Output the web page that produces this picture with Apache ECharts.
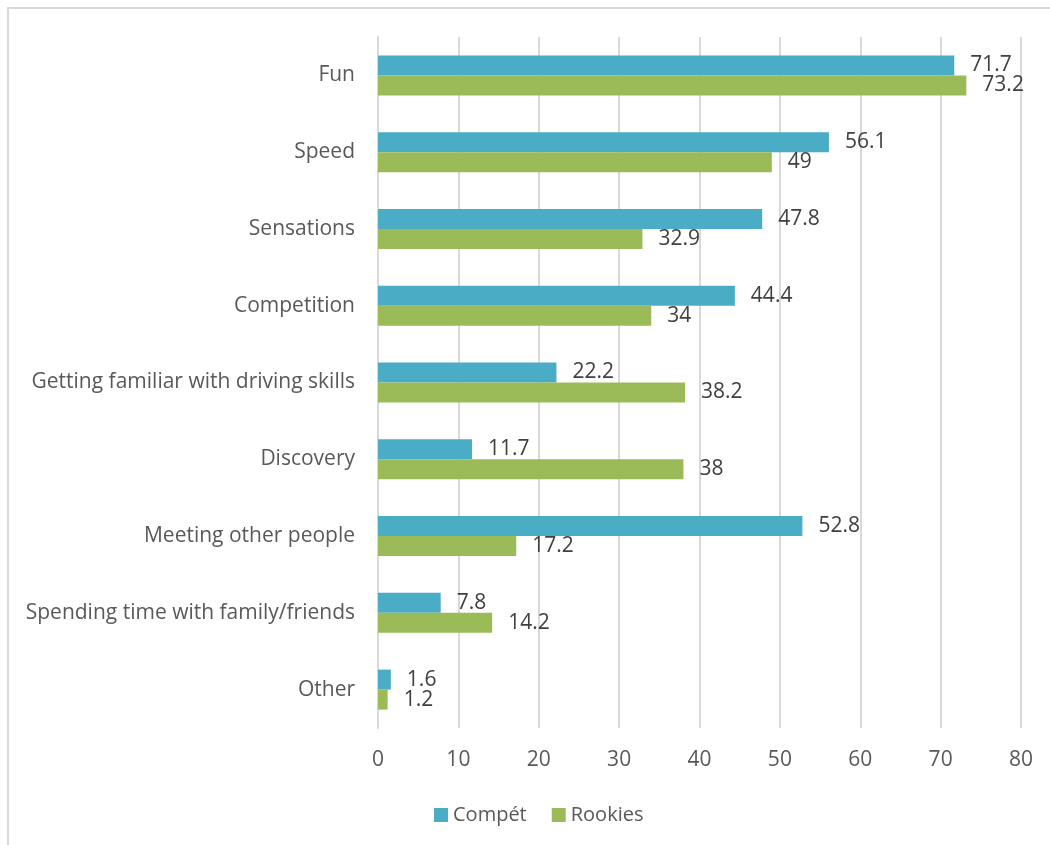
<!DOCTYPE html>
<html>
<head>
<meta charset="utf-8">
<script src="https://cdn.jsdelivr.net/npm/echarts@6/dist/echarts.min.js"></script>
<style>
  html, body { margin: 0; padding: 0; background: #ffffff; }
  #chart { width: 1050px; height: 845px; }
</style>
</head>
<body>
<div id="chart"></div>
<script>
// Motivations, by group (%)
const categories = [
  'Fun', 'Speed', 'Sensations', 'Competition',
  'Getting familiar with driving skills', 'Discovery',
  'Meeting other people', 'Spending time with family/friends', 'Other'
];
const compet = [71.7, 56.1, 47.8, 44.4, 22.2, 11.7, 52.8, 7.8, 1.6];
const rookies = [73.2, 49, 32.9, 34, 38.2, 38, 17.2, 14.2, 1.2];
const seriesNames = ['Compét', 'Rookies'];

const font = '"Open Sans", "Noto Sans", sans-serif';
const chart = echarts.init(document.getElementById('chart'), null, { renderer: 'canvas' });

const labelStyle = {
  show: true,
  position: 'right',
  distance: 16,
  color: '#404040',
  fontSize: 21,
  fontFamily: font
};

chart.setOption({
  animation: false,
  backgroundColor: '#ffffff',
  graphic: [{
    type: 'rect',
    silent: true,
    z: -10,
    shape: { x: 8, y: 8, width: 1100, height: 900 },
    style: { fill: 'none', stroke: '#d9d9d9', lineWidth: 2 }
  }],
  grid: { left: 378, right: 29, top: 37, bottom: 117, containLabel: false },
  legend: {
    data: seriesNames,
    left: 429,
    top: 800,
    itemWidth: 14,
    itemHeight: 14,
    itemGap: 25,
    icon: 'rect',
    textStyle: { color: '#595959', fontSize: 20, fontFamily: font }
  },
  xAxis: {
    type: 'value',
    min: 0,
    max: 80,
    interval: 10,
    axisLine: { show: false },
    axisTick: { show: false },
    axisLabel: { color: '#595959', fontSize: 21, fontFamily: font, margin: 22 },
    splitLine: { show: true, lineStyle: { color: '#d9d9d9', width: 2 } }
  },
  yAxis: {
    type: 'category',
    data: categories,
    inverse: true,
    axisLine: { show: true, lineStyle: { color: '#d9d9d9', width: 2 } },
    axisTick: { show: false },
    axisLabel: { color: '#595959', fontSize: 21, fontFamily: font, margin: 23 }
  },
  series: [
    {
      name: seriesNames[0],
      type: 'bar',
      data: compet,
      barWidth: 20,
      barGap: '0%',
      itemStyle: { color: '#4bacc6' },
      label: labelStyle
    },
    {
      name: seriesNames[1],
      type: 'bar',
      data: rookies,
      barWidth: 20,
      barGap: '0%',
      itemStyle: { color: '#9bbb59' },
      label: labelStyle
    }
  ]
});
</script>
</body>
</html>
